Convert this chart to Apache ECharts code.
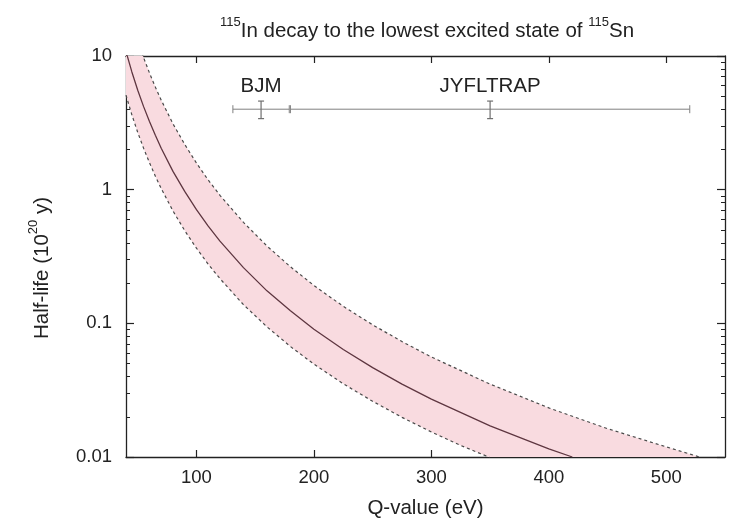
<!DOCTYPE html>
<html><head><meta charset="utf-8">
<script src="https://cdn.jsdelivr.net/npm/echarts@6/dist/echarts.min.js"></script>
<style>html,body{margin:0;padding:0;background:#fff}#c{width:734px;height:524px}</style>
</head><body><div id="c"></div>
<script>
// ---- data ----
const xTicks = [100, 200, 300, 400, 500];
const yMajorTicks = [0.01, 0.1, 1, 10];
const yMinorTicks = [0.02,0.03,0.04,0.05,0.06,0.07,0.08,0.09,0.2,0.3,0.4,0.5,0.6,0.7,0.8,0.9,2,3,4,5,6,7,8,9];

const midQ = [40,45,50,55,60,65,70,80,90,100,110,120,140,160,180,200,225,250,275,300,350,400,420];
const midT = [10.8,7.6,5.55,4.18,3.23,2.55,2.04,1.37,0.97,0.708,0.533,0.412,0.261,0.175,0.124,0.0904,0.0637,0.0466,0.0351,0.0271,0.0171,0.0115,0.0100];

const upQ = [40,45,50,55,60,65,70,80,90,100,110,120,140,160,180,200,225,250,275,300,350,400,450,500,530];
const upT = [25.6,17.9,13.0,9.72,7.46,5.85,4.67,3.11,2.18,1.58,1.18,0.908,0.569,0.379,0.265,0.192,0.134,0.0975,0.073,0.056,0.0351,0.0233,0.0163,0.0119,0.0099];

const loQ = [40,45,50,55,60,65,70,80,90,100,110,120,140,160,180,200,225,250,275,300,325,350];
const loT = [5.1,3.63,2.68,2.04,1.59,1.26,1.02,0.693,0.494,0.365,0.277,0.216,0.138,0.0942,0.0671,0.0495,0.0353,0.0261,0.0198,0.0154,0.0122,0.0099];

const measNames = ['BJM', 'JYFLTRAP'];
const measQ = [155, 350];
const measQLow = [131, 180];
const measQHigh = [179, 520];
const measT = [4, 4];
const measBarLow = [3.4, 3.4];
const measBarHigh = [4.6, 4.6];
const measLabelT = [5.9, 5.9];

const FONT = 'Liberation Sans';
const INK = '#222';

const chart = echarts.init(document.getElementById('c'));

const xBase = {type:'value', min:40, max:550, splitLine:{show:false}};
const yBase = {type:'log', logBase:10, min:0.01, max:10, splitLine:{show:false}};

chart.setOption({
  animation:false,
  backgroundColor:'#fff',
  grid:{left:126, right:9, top:56, bottom:66},
  graphic:[{
    type:'text', x:427, y:29,
    style:{
      text:'{s|115}{m|In decay to the lowest excited state of }{s|115}{m|Sn}',
      align:'center', verticalAlign:'middle',
      rich:{
        m:{fontSize:20.5, fontFamily:FONT, fill:INK, lineHeight:26, verticalAlign:'bottom'},
        s:{fontSize:13, fontFamily:FONT, fill:INK, lineHeight:26, verticalAlign:'top'}
      }
    }
  },{
    type:'text', x:40, y:268, rotation:Math.PI/2,
    style:{
      text:'{m|Half-life (10}{s|20}{m| y)}',
      align:'center', verticalAlign:'middle',
      rich:{
        m:{fontSize:20.5, fontFamily:FONT, fill:INK, lineHeight:26, verticalAlign:'bottom'},
        s:{fontSize:13, fontFamily:FONT, fill:INK, lineHeight:26, verticalAlign:'top'}
      }
    }
  }],
  xAxis:[
    Object.assign({}, xBase, {
      position:'bottom',
      axisLine:{lineStyle:{color:INK, width:1.3}},
      axisTick:{inside:true, length:7, customValues:xTicks, lineStyle:{color:INK, width:1.2}},
      axisLabel:{customValues:xTicks, margin:11, fontSize:18.5, color:INK, fontFamily:FONT},
      name:'Q-value (eV)', nameLocation:'middle', nameGap:41,
      nameTextStyle:{fontSize:20.5, color:INK, fontFamily:FONT}
    }),
    Object.assign({}, xBase, {
      position:'top',
      axisLine:{lineStyle:{color:INK, width:1.3}},
      axisTick:{inside:true, length:7, customValues:xTicks, lineStyle:{color:INK, width:1.2}},
      axisLabel:{show:false}
    })
  ],
  yAxis:[
    Object.assign({}, yBase, {
      position:'left',
      axisLine:{lineStyle:{color:INK, width:1.3}},
      axisTick:{inside:true, length:8, customValues:yMajorTicks, lineStyle:{color:INK, width:1.2}},
      axisLabel:{customValues:yMajorTicks, margin:14, fontSize:18.5, color:INK, fontFamily:FONT,
        formatter:v=>String(+(+v).toPrecision(3))}
    }),
    Object.assign({}, yBase, {
      position:'right',
      axisLine:{lineStyle:{color:INK, width:1.3}},
      axisTick:{inside:true, length:8, customValues:yMajorTicks, lineStyle:{color:INK, width:1.2}},
      axisLabel:{show:false}
    }),
    Object.assign({}, yBase, {
      position:'left',
      axisLine:{show:false},
      axisTick:{inside:true, length:4, customValues:yMinorTicks, lineStyle:{color:INK, width:1}},
      axisLabel:{show:false}
    }),
    Object.assign({}, yBase, {
      position:'right',
      axisLine:{show:false},
      axisTick:{inside:true, length:4, customValues:yMinorTicks, lineStyle:{color:INK, width:1}},
      axisLabel:{show:false}
    })
  ],
  series:[
    {
      type:'custom', xAxisIndex:0, yAxisIndex:0, clip:true, silent:true, z:1,
      data:[0],
      renderItem:(params, api)=>{
        const pts = [];
        for (let i = 0; i < upQ.length; i++) pts.push(api.coord([upQ[i], upT[i]]));
        for (let i = loQ.length - 1; i >= 0; i--) pts.push(api.coord([loQ[i], loT[i]]));
        return {type:'polygon', shape:{points:pts}, style:{fill:'#f9dbe0', stroke:null}};
      }
    },
    {
      type:'line', xAxisIndex:0, yAxisIndex:0, symbol:'none', z:3,
      data:upQ.map((q,i)=>[q, upT[i]]),
      lineStyle:{color:'#4a4a4a', width:1.2, type:[3,3]}
    },
    {
      type:'line', xAxisIndex:0, yAxisIndex:0, symbol:'none', z:3,
      data:loQ.map((q,i)=>[q, loT[i]]),
      lineStyle:{color:'#4a4a4a', width:1.2, type:[3,3]}
    },
    {
      type:'line', xAxisIndex:0, yAxisIndex:0, symbol:'none', z:4,
      data:midQ.map((q,i)=>[q, midT[i]]),
      lineStyle:{color:'#5e3640', width:1.3}
    },
    {
      type:'custom', xAxisIndex:0, yAxisIndex:0, silent:true, z:5,
      data:measQ.map((q,i)=>[q, measT[i], measQLow[i], measQHigh[i], measBarLow[i], measBarHigh[i], measLabelT[i]]),
      renderItem:(params, api)=>{
        const q = api.value(0), t = api.value(1);
        const pl = api.coord([api.value(2), t]);
        const ph = api.coord([api.value(3), t]);
        const b1 = api.coord([q, api.value(4)]);
        const b2 = api.coord([q, api.value(5)]);
        const pt = api.coord([q, api.value(6)]);
        const gs = {stroke:'#808080', lineWidth:1};
        const bs = {stroke:'#707070', lineWidth:1.2};
        return {type:'group', children:[
          {type:'line', shape:{x1:pl[0], y1:pl[1], x2:ph[0], y2:ph[1]}, style:gs},
          {type:'line', shape:{x1:pl[0], y1:pl[1]-4, x2:pl[0], y2:pl[1]+4}, style:gs},
          {type:'line', shape:{x1:ph[0], y1:ph[1]-4, x2:ph[0], y2:ph[1]+4}, style:gs},
          {type:'line', shape:{x1:b1[0], y1:b1[1], x2:b2[0], y2:b2[1]}, style:bs},
          {type:'line', shape:{x1:b1[0]-3, y1:b1[1], x2:b1[0]+3, y2:b1[1]}, style:bs},
          {type:'line', shape:{x1:b2[0]-3, y1:b2[1], x2:b2[0]+3, y2:b2[1]}, style:bs},
          {type:'text', style:{text:measNames[params.dataIndex], x:pt[0], y:pt[1], align:'center', verticalAlign:'middle',
            fontSize:20.5, fontFamily:FONT, fill:INK}}
        ]};
      }
    }
  ]
});
</script>
</body></html>
